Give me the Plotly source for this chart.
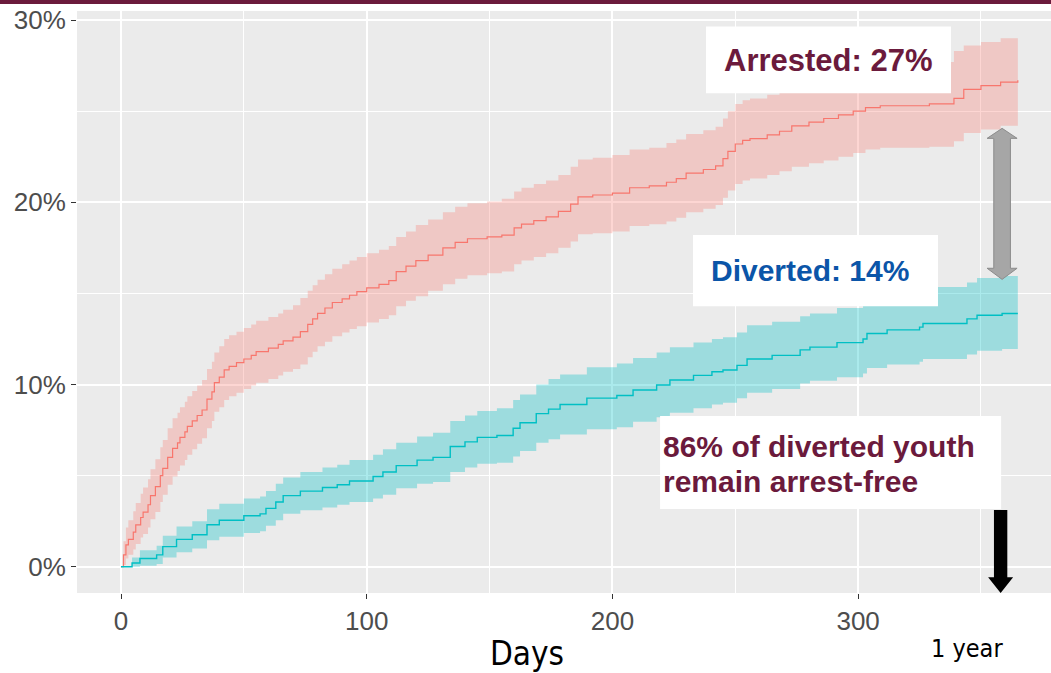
import plotly.graph_objects as go

# ---------------- data ----------------
arrested_days = [0, 1, 2, 3, 5, 6, 8, 9, 11, 12, 14, 16, 17, 19, 21, 23, 24, 26, 27, 29,
                 31, 33, 35, 37, 38, 40, 42, 44, 47, 50, 53, 55, 60, 64, 66, 70, 73, 76, 78, 80,
                 83, 86, 90, 93, 96, 100, 105, 109, 112, 116, 120, 125, 131, 136, 141, 149, 155, 160, 163, 168,
                 173, 178, 183, 186, 192, 200, 207, 215, 222, 226, 230, 237, 242, 245, 247, 250, 253, 256, 263, 268,
                 273, 280, 286, 292, 298, 303, 309, 329, 339, 343, 350, 358, 365]
arrested_pct = [0, 0.65, 1.2, 1.5, 1.9, 2.3, 2.7, 3.0, 3.4, 3.9, 4.4, 5.0, 5.4, 6.0, 6.5, 6.8, 7.1, 7.4, 7.7, 8.0,
                8.3, 8.6, 9.2, 9.6, 10.1, 10.4, 10.8, 11.0, 11.2, 11.4, 11.6, 11.8, 12.0, 12.2, 12.4, 12.6, 12.9, 13.3, 13.6, 13.9,
                14.2, 14.5, 14.7, 14.9, 15.1, 15.3, 15.5, 15.7, 16.2, 16.5, 16.8, 17.1, 17.5, 17.8, 18.0, 18.1, 18.2, 18.6, 18.8, 19.0,
                19.2, 19.5, 19.9, 20.3, 20.4, 20.5, 20.8, 20.9, 21.1, 21.3, 21.6, 21.8, 22.0, 22.4, 22.8, 23.2, 23.4, 23.5, 23.7, 23.9,
                24.2, 24.4, 24.6, 24.8, 25.0, 25.2, 25.3, 25.4, 25.7, 26.2, 26.4, 26.6, 26.7]
arrested_lower = [0, 0.1, 0.45, 0.65, 0.95, 1.25, 1.6, 1.8, 2.15, 2.6, 3.0, 3.55, 3.95, 4.5, 4.95, 5.25, 5.55, 5.85, 6.15, 6.45,
                  6.75, 7.05, 7.6, 8.0, 8.5, 8.75, 9.15, 9.35, 9.55, 9.75, 9.95, 10.1, 10.3, 10.5, 10.7, 10.85, 11.1, 11.5, 11.8, 12.1,
                  12.35, 12.65, 12.85, 13.05, 13.2, 13.4, 13.6, 13.8, 14.3, 14.6, 14.85, 15.15, 15.5, 15.8, 16.0, 16.1, 16.2, 16.6, 16.8, 17.0,
                  17.2, 17.5, 17.85, 18.25, 18.3, 18.4, 18.7, 18.8, 18.95, 19.15, 19.45, 19.65, 19.85, 20.25, 20.65, 21.0, 21.2, 21.3, 21.5, 21.7,
                  21.95, 22.15, 22.3, 22.5, 22.7, 22.9, 23.0, 23.05, 23.35, 23.8, 24.0, 24.2, 24.2]
arrested_upper = [0, 1.4, 2.15, 2.55, 3.05, 3.5, 4.0, 4.35, 4.8, 5.35, 5.9, 6.55, 6.95, 7.6, 8.15, 8.45, 8.75, 9.05, 9.35, 9.65,
                  9.95, 10.25, 10.85, 11.25, 11.75, 12.1, 12.5, 12.7, 12.9, 13.1, 13.3, 13.5, 13.7, 13.9, 14.1, 14.35, 14.75, 15.15, 15.45, 15.75,
                  16.05, 16.35, 16.6, 16.8, 17.0, 17.2, 17.4, 17.6, 18.1, 18.4, 18.75, 19.05, 19.45, 19.75, 19.95, 20.05, 20.2, 20.6, 20.8, 21.0,
                  21.2, 21.5, 21.95, 22.35, 22.45, 22.6, 22.9, 23.0, 23.25, 23.45, 23.75, 23.95, 24.15, 24.6, 25.0, 25.4, 25.6, 25.7, 25.9, 26.1,
                  26.45, 26.65, 26.9, 27.1, 27.3, 27.5, 27.6, 27.7, 28.3, 28.6, 28.8, 29.0, 29.0]

diverted_days = [0, 4.5, 7.7, 14.5, 17, 22.6, 29, 35, 40, 50, 56.6, 59, 63, 66, 73, 82, 88, 93, 102.6, 106.6,
                 112, 120.5, 127, 134, 140, 145, 153, 159.6, 162.4, 169, 174, 178.7, 189.6, 201.8, 208.4, 218, 223.4, 233, 240.5, 245,
                 250.7, 254.8, 265, 276.4, 280.4, 291.4, 302, 303.6, 311.8, 325, 326.4, 344.3, 348.4, 358.6, 365]
diverted_pct = [0, 0.2, 0.45, 0.65, 1.1, 1.5, 1.75, 2.3, 2.55, 2.8, 2.9, 3.2, 3.55, 3.9, 4.15, 4.35, 4.5, 4.7, 4.95, 5.2,
                5.55, 5.85, 6.0, 6.6, 6.85, 7.1, 7.2, 7.6, 7.9, 8.4, 8.65, 8.9, 9.25, 9.4, 9.7, 9.97, 10.25, 10.5, 10.7, 10.8,
                11.05, 11.4, 11.6, 11.9, 12.05, 12.3, 12.5, 12.8, 13.0, 13.15, 13.35, 13.6, 13.8, 13.9, 13.9]
diverted_lower = [0, 0.0, 0.05, 0.15, 0.5, 0.8, 1.0, 1.45, 1.65, 1.85, 1.95, 2.25, 2.55, 2.9, 3.1, 3.25, 3.4, 3.55, 3.75, 3.95,
                  4.3, 4.55, 4.65, 5.2, 5.45, 5.65, 5.7, 6.05, 6.35, 6.8, 7.0, 7.25, 7.55, 7.65, 7.95, 8.2, 8.45, 8.7, 8.9, 9.0,
                  9.25, 9.55, 9.75, 10.05, 10.2, 10.4, 10.6, 10.9, 11.1, 11.25, 11.4, 11.65, 11.85, 11.95, 11.95]
diverted_upper = [0, 0.5, 0.9, 1.15, 1.7, 2.2, 2.5, 3.15, 3.45, 3.75, 3.85, 4.15, 4.55, 4.9, 5.2, 5.45, 5.6, 5.85, 6.15, 6.45,
                  6.8, 7.15, 7.35, 8.0, 8.3, 8.55, 8.7, 9.15, 9.45, 10.0, 10.3, 10.55, 10.95, 11.15, 11.45, 11.75, 12.05, 12.3, 12.5, 12.6,
                  12.85, 13.25, 13.45, 13.75, 13.9, 14.2, 14.4, 14.7, 14.9, 15.1, 15.35, 15.6, 15.85, 15.95, 16.0]

x_ticks = [0, 100, 200, 300]
y_ticks = [0, 10, 20, 30]
y_tick_labels = ["0%", "10%", "20%", "30%"]

# ---------------- styling ----------------
RED = "#F8766D"
RED_FILL = "rgba(248,118,109,0.3)"
TEAL = "#00BFC4"
TEAL_FILL = "rgba(0,191,196,0.33)"
MAROON = "#6B1A3C"
BLUE = "#0B55A8"
FONT = "Liberation Sans, Arial, sans-serif"
NARROW = "Liberation Sans Narrow, DejaVu Sans Condensed, Arial Narrow, sans-serif"

fig = go.Figure()

# confidence bands
for days, lo, hi, fc in [(arrested_days, arrested_lower, arrested_upper, RED_FILL),
                         (diverted_days, diverted_lower, diverted_upper, TEAL_FILL)]:
    fig.add_trace(go.Scatter(x=days, y=hi, mode="lines", line=dict(width=0, shape="hv"),
                             showlegend=False, hoverinfo="skip"))
    fig.add_trace(go.Scatter(x=days, y=lo, mode="lines", line=dict(width=0, shape="hv"),
                             fill="tonexty", fillcolor=fc, showlegend=False, hoverinfo="skip"))

# cumulative incidence lines
fig.add_trace(go.Scatter(x=arrested_days, y=arrested_pct, mode="lines",
                         line=dict(color=RED, width=1.2, shape="hv"), name="Arrested", showlegend=False))
fig.add_trace(go.Scatter(x=diverted_days, y=diverted_pct, mode="lines",
                         line=dict(color=TEAL, width=1.4, shape="hv"), name="Diverted", showlegend=False))

shapes = []
# white label boxes
for x0, x1, y0, y1 in [(238.1, 337.8, 25.99, 29.65),
                       (232.8, 332.5, 14.30, 18.21),
                       (219.4, 358.2, 3.17, 8.27)]:
    shapes.append(dict(type="rect", xref="x", yref="y", x0=x0, x1=x1, y0=y0, y1=y1,
                       fillcolor="white", line=dict(width=0), layer="above"))

# gray double arrow
cx, sw, hw = 358.6, 3.39, 6.1
tt, hb1, hb2, bt = 24.06, 23.51, 16.38, 15.77
p = (f"M {cx},{tt} L {cx+hw},{hb1} L {cx+sw},{hb1} L {cx+sw},{hb2} L {cx+hw},{hb2} "
     f"L {cx},{bt} L {cx-hw},{hb2} L {cx-sw},{hb2} L {cx-sw},{hb1} L {cx-hw},{hb1} Z")
shapes.append(dict(type="path", xref="x", yref="y", path=p, fillcolor="#A6A6A6",
                   line=dict(color="#8C8C8C", width=1), layer="above"))

# black down arrow
cx2, sw2, hw2 = 358.0, 2.72, 5.09
top2, hb3, tip2 = 3.11, -0.58, -1.44
p2 = (f"M {cx2-sw2},{top2} L {cx2+sw2},{top2} L {cx2+sw2},{hb3} L {cx2+hw2},{hb3} "
      f"L {cx2},{tip2} L {cx2-hw2},{hb3} L {cx2-sw2},{hb3} Z")
shapes.append(dict(type="path", xref="x", yref="y", path=p2, fillcolor="black",
                   line=dict(width=0), layer="above"))

# top maroon bar
shapes.append(dict(type="rect", xref="paper", yref="paper", x0=-0.08, x1=1.0,
                   y0=1 + 7 / 582, y1=1 + 12 / 582, fillcolor=MAROON, line=dict(width=0)))

annotations = [
    dict(x=244.6, y=27.81, xref="x", yref="y", text="Arrested: 27%", showarrow=False,
         xanchor="left", yanchor="middle", font=dict(family=FONT, size=31, color=MAROON, weight=700)),
    dict(x=239.3, y=16.28, xref="x", yref="y", text="Diverted: 14%", showarrow=False,
         xanchor="left", yanchor="middle", font=dict(family=FONT, size=30, color=BLUE, weight=700)),
    dict(x=219.8, y=6.60, xref="x", yref="y", text="86% of diverted youth", showarrow=False,
         xanchor="left", yanchor="middle", font=dict(family=FONT, size=30, color=MAROON, weight=700)),
    dict(x=219.8, y=4.65, xref="x", yref="y", text="remain arrest-free", showarrow=False,
         xanchor="left", yanchor="middle", font=dict(family=FONT, size=30, color=MAROON, weight=700)),
    # axis caption and "1 year" label below the panel (paper coordinates)
    dict(x=(527 - 77) / 974, y=-(653 - 593) / 582, xref="paper", yref="paper", text="Days", showarrow=False,
         xanchor="center", yanchor="middle", font=dict(family=NARROW, size=33, color="black")),
    dict(x=(967 - 77) / 974, y=-(648 - 593) / 582, xref="paper", yref="paper", text="1 year", showarrow=False,
         xanchor="center", yanchor="middle", font=dict(family=NARROW, size=25, color="black")),
]

fig.update_layout(
    width=1051, height=673,
    margin=dict(l=77, r=0, t=11, b=80),
    paper_bgcolor="white", plot_bgcolor="#EBEBEB",
    shapes=shapes, annotations=annotations,
    showlegend=False,
    xaxis=dict(range=[-17.91, 378.5], tickmode="array", tickvals=x_ticks, showgrid=True, gridcolor="white", gridwidth=2,
               minor=dict(dtick=50, tick0=0, showgrid=True, gridcolor="white", gridwidth=1),
               zeroline=False, ticks="outside", ticklen=5, tickcolor="#333333", tickwidth=1,
               tickfont=dict(family=FONT, size=26, color="#4D4D4D"), showline=False),
    yaxis=dict(range=[-1.443, 30.50], tickmode="array", tickvals=y_ticks, ticktext=y_tick_labels,
               showgrid=True, gridcolor="white",
               gridwidth=2, minor=dict(dtick=5, tick0=0, showgrid=True, gridcolor="white", gridwidth=1),
               zeroline=False, ticks="outside", ticklen=5, tickcolor="#333333", tickwidth=1,
               tickfont=dict(family=FONT, size=26, color="#4D4D4D"), showline=False),
)

fig.write_html("out.html", config={"displayModeBar": False},
               post_script="document.body.style.margin='0px';")
